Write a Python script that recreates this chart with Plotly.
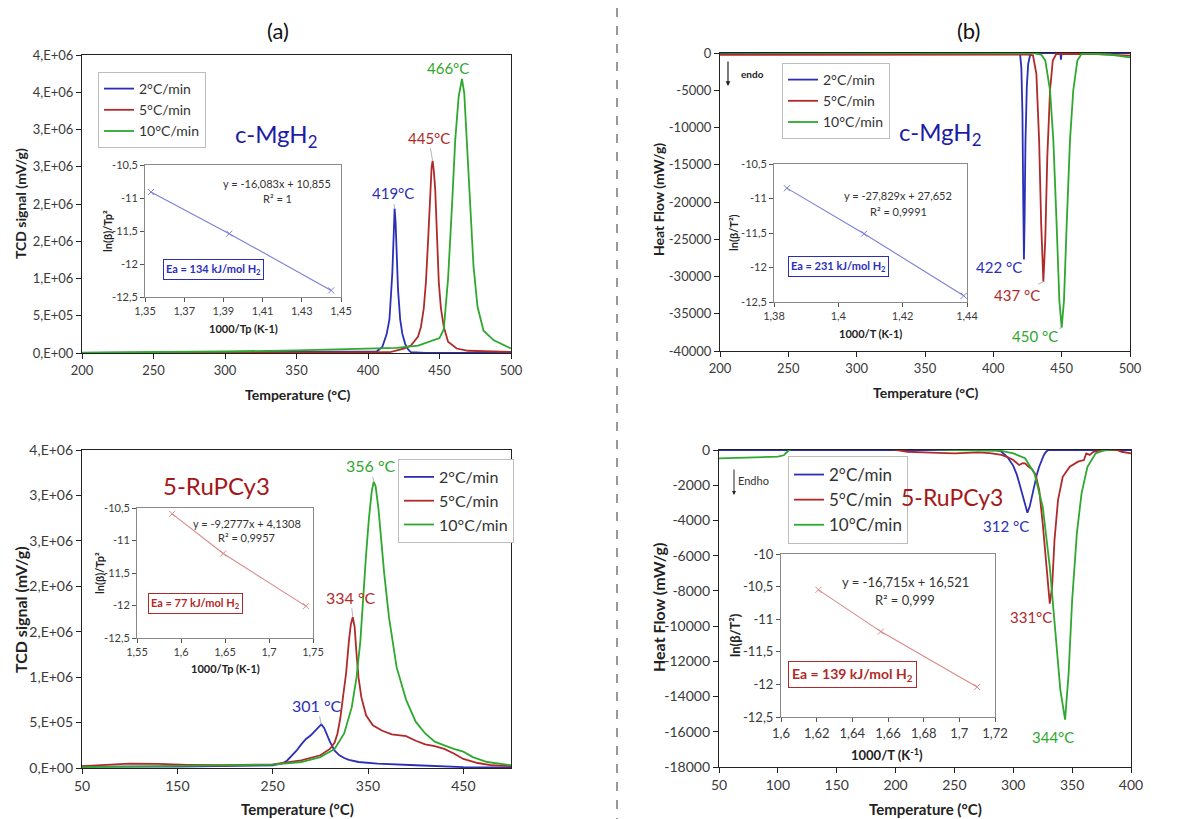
import plotly.graph_objects as go

W, H = 1203, 819
OFF = 8  # page body margin in the browser
def px(x): return (x - OFF) / W
def py(y): return 1 - (y - OFF) / H

FONT = "Lato"
RATES = ["2°C/min", "5°C/min", "10°C/min"]
COLORS = ["#2b2fb8", "#b02a2a", "#2ea82e"]
INSET_BLUE = "#7b7fd6"
INSET_RED = "#d98a8a"
NAVY = "#1c1ca6"
DARKRED = "#a31818"

# ---------------- (a) top : TPD c-MgH2 ----------------
a1_T_2 = [200, 300, 400, 406, 410, 413, 415, 417, 418, 418.6, 419.3, 420, 421, 422.5, 424, 426, 428, 430, 440, 500]
a1_S_2 = [0.0, 0.005e6, 0.01e6, 0.02e6, 0.08e6, 0.25e6, 0.45e6, 1.07e6, 1.6e6, 1.94e6, 1.75e6, 1.33e6, 0.85e6,
          0.45e6, 0.26e6, 0.12e6, 0.05e6, 0.01e6, 0.0, 0.0]
a1_T_5 = [200, 350, 415, 425, 430, 435, 437, 439, 440.5, 442, 443.5, 444.5, 445.2, 446, 447, 448.2, 449.5, 451, 453,
          456, 462, 470, 500]
a1_S_5 = [0.0, 0.003e6, 0.01e6, 0.06e6, 0.1e6, 0.22e6, 0.35e6, 0.6e6, 0.95e6, 1.5e6, 2.2e6, 2.5e6, 2.58e6, 2.45e6,
          2.2e6, 1.51e6, 0.95e6, 0.6e6, 0.35e6, 0.15e6, 0.06e6, 0.03e6, 0.015e6]
a1_T_10 = [200, 250, 300, 350, 400, 420, 435, 445, 450, 453, 456, 458.7, 461, 463.4, 465.7, 467.3, 469, 471.5, 473.8,
           476.6, 480.8, 488, 500]
a1_S_10 = [0.005e6, 0.01e6, 0.02e6, 0.035e6, 0.06e6, 0.07e6, 0.1e6, 0.16e6, 0.2e6, 0.32e6, 1.0e6, 1.96e6, 2.86e6,
           3.44e6, 3.68e6, 3.49e6, 2.86e6, 1.96e6, 1.16e6, 0.62e6, 0.3e6, 0.17e6, 0.06e6]
a1_yticks = [0, 0.5e6, 1e6, 1.5e6, 2e6, 2.5e6, 3e6, 3.5e6, 4e6]
a1_ylabels = ["0,E+00", "5,E+05", "1,E+06", "2,E+06", "2,E+06", "3,E+06", "3,E+06", "4,E+06", "4,E+06"]
a1_xticks = [200, 250, 300, 350, 400, 450, 500]

# ---------------- (b) top : DSC c-MgH2 ----------------
b1_T_2 = [200, 300, 419.5, 420.5, 421.3, 421.9, 422.4, 422.9, 423.5, 424.5, 425.5, 427, 428, 449, 449.5, 450, 500]
b1_V_2 = [0, 0, 0, -2000, -8000, -20000, -27700, -22000, -12000, -4500, -1500, -200, 0, 0, -900, 0, 0]
b1_T_5 = [200, 300, 400, 425, 429, 431.5, 433.5, 435, 436.6, 438, 439.5, 441.5, 443.5, 446, 450, 475, 500]
b1_V_5 = [-250, -250, -250, -200, -300, -2800, -11700, -22900, -30700, -25100, -13900, -5000, -1000, -150, -100,
          -150, -350]
b1_T_10 = [200, 400, 430, 435, 438, 441.5, 443.9, 446.3, 448.3, 450, 451.7, 453.7, 456.1, 458.5, 461.5, 464.6,
           470, 485, 495, 500]
b1_V_10 = [50, 0, -50, -200, -1000, -5000, -11700, -22900, -33200, -36870, -33200, -22900, -11700, -5000, -1000,
           -100, -80, -200, -450, -600]
b1_yticks = [0, -5000, -10000, -15000, -20000, -25000, -30000, -35000, -40000]
b1_ylabels = ["0", "-5000", "-10000", "-15000", "-20000", "-25000", "-30000", "-35000", "-40000"]
b1_xticks = [200, 250, 300, 350, 400, 450, 500]

# ---------------- (a) bottom : TPD 5-RuPCy3 ----------------
a2_T_2 = [50, 150, 250, 260, 265, 270, 275, 280, 285, 290, 295, 298, 301, 304, 307, 310, 315, 320, 325, 330, 340,
          360, 400, 450, 500]
a2_S_2 = [0.015e6, 0.015e6, 0.03e6, 0.05e6, 0.08e6, 0.13e6, 0.19e6, 0.26e6, 0.32e6, 0.36e6, 0.41e6, 0.45e6, 0.48e6,
          0.44e6, 0.36e6, 0.29e6, 0.19e6, 0.14e6, 0.11e6, 0.09e6, 0.066e6, 0.048e6, 0.03e6, 0.01e6, 0.005e6]
a2_T_5 = [50, 75, 100, 130, 160, 200, 250, 280, 300, 310, 315, 318, 321, 324, 327, 330, 332, 334, 336, 338, 340, 343,
          348, 355, 365, 375, 385, 390, 400, 410, 420, 430, 440, 450, 465, 480, 500]
a2_S_5 = [0.02e6, 0.035e6, 0.048e6, 0.045e6, 0.035e6, 0.03e6, 0.04e6, 0.085e6, 0.14e6, 0.21e6, 0.28e6, 0.38e6,
          0.55e6, 0.8e6, 1.04e6, 1.4e6, 1.58e6, 1.66e6, 1.55e6, 1.25e6, 1.0e6, 0.78e6, 0.58e6, 0.47e6, 0.41e6,
          0.37e6, 0.36e6, 0.35e6, 0.3e6, 0.26e6, 0.24e6, 0.21e6, 0.16e6, 0.10e6, 0.055e6, 0.03e6, 0.02e6]
a2_T_10 = [50, 150, 250, 280, 300, 315, 325, 333, 338, 342, 345, 348, 351, 354, 356, 358, 361, 364, 367, 372, 380,
           390, 400, 410, 420, 430, 440, 450, 460, 475, 500]
a2_S_10 = [0.01e6, 0.02e6, 0.037e6, 0.066e6, 0.12e6, 0.21e6, 0.38e6, 0.67e6, 1.0e6, 1.4e6, 1.9e6, 2.35e6, 2.75e6,
           3.05e6, 3.15e6, 3.1e6, 2.85e6, 2.5e6, 2.14e6, 1.66e6, 1.11e6, 0.75e6, 0.51e6, 0.38e6, 0.29e6, 0.25e6,
           0.21e6, 0.18e6, 0.12e6, 0.066e6, 0.03e6]
a2_yticks = [0, 0.5e6, 1e6, 1.5e6, 2e6, 2.5e6, 3e6, 3.5e6]
a2_ylabels = ["0,E+00", "5,E+05", "1,E+06", "2,E+06", "2,E+06", "3,E+06", "3,E+06", "4,E+06"]
a2_xticks = [50, 150, 250, 350, 450]

# ---------------- (b) bottom : DSC 5-RuPCy3 ----------------
b2_T_2 = [50, 200, 285, 290, 295, 300, 303, 306, 309, 312, 314, 316, 318, 320, 322, 324, 326, 328, 330, 400]
b2_V_2 = [0, 0, 0, -100, -400, -900, -1400, -2100, -2900, -3560, -3200, -2600, -1900, -1400, -950, -550, -280, -80,
          0, 0]
b2_T_5 = [50, 195, 200, 210, 230, 250, 270, 280, 290, 295, 300, 305, 308, 310, 313, 316, 319, 322, 325, 328, 331,
          333, 335, 338, 342, 348, 355, 360, 362, 365, 368, 372, 380, 388, 392, 400]
b2_V_5 = [300, 300, 0, -100, -150, -190, -130, -180, -280, -400, -570, -850, -750, -760, -950, -1100, -1400, -2270,
          -4170, -6630, -8720, -7770, -5120, -2840, -1520, -950, -660, -570, -190, -280, -100, -50, 0, 0, -100, -190]
b2_T_10 = [50, 80, 100, 105, 108, 112, 200, 250, 290, 300, 310, 318, 325, 331, 336, 340, 344, 347, 350, 354, 358,
           363, 370, 378, 390, 400]
b2_V_10 = [-480, -430, -380, -300, -100, 100, 100, 0, -50, -190, -470, -1330, -3220, -6630, -10800, -13640, -15310,
           -12690, -8530, -4740, -2460, -950, -190, 0, 50, 100]
b2_yticks = [0, -2000, -4000, -6000, -8000, -10000, -12000, -14000, -16000, -18000]
b2_ylabels = ["0", "-2000", "-4000", "-6000", "-8000", "-10000", "-12000", "-14000", "-16000", "-18000"]
b2_xticks = [50, 100, 150, 200, 250, 300, 350, 400]

# ---------------- Kissinger insets ----------------
i1_x = [1.353, 1.393, 1.445]
i1_y = [-10.91, -11.54, -12.40]
i1_xticks = [1.35, 1.37, 1.39, 1.41, 1.43, 1.45]
i1_xlabels = ["1,35", "1,37", "1,39", "1,41", "1,43", "1,45"]
i2_x = [1.384, 1.408, 1.439]
i2_y = [-10.85, -11.51, -12.41]
i2_xticks = [1.38, 1.40, 1.42, 1.44]
i2_xlabels = ["1,38", "1,4", "1,42", "1,44"]
i3_x = [1.590, 1.648, 1.742]
i3_y = [-10.59, -11.20, -12.01]
i3_xticks = [1.55, 1.60, 1.65, 1.70, 1.75]
i3_xlabels = ["1,55", "1,6", "1,65", "1,7", "1,75"]
i4_x = [1.621, 1.656, 1.710]
i4_y = [-10.55, -11.19, -12.04]
i4_xticks = [1.60, 1.62, 1.64, 1.66, 1.68, 1.70, 1.72]
i4_xlabels = ["1,6", "1,62", "1,64", "1,66", "1,68", "1,7", "1,72"]
iy_ticks = [-12.5, -12, -11.5, -11, -10.5]
iy_labels = ["-12,5", "-12", "-11,5", "-11", "-10,5"]
iy4_ticks = [-12.5, -12, -11.5, -11, -10.5, -10]
iy4_labels = ["-12,5", "-12", "-11,5", "-11", "-10,5", "-10"]

fig = go.Figure()

panels = [
    ("x", "y", "legend", [(a1_T_2, a1_S_2), (a1_T_5, a1_S_5), (a1_T_10, a1_S_10)]),
    ("x2", "y2", "legend2", [(b1_T_2, b1_V_2), (b1_T_5, b1_V_5), (b1_T_10, b1_V_10)]),
    ("x3", "y3", "legend3", [(a2_T_2, a2_S_2), (a2_T_5, a2_S_5), (a2_T_10, a2_S_10)]),
    ("x4", "y4", "legend4", [(b2_T_2, b2_V_2), (b2_T_5, b2_V_5), (b2_T_10, b2_V_10)]),
]
for xa, ya, leg, series in panels:
    for (xs, ys), name, col in zip(series, RATES, COLORS):
        fig.add_trace(go.Scatter(x=xs, y=ys, mode="lines", name=name, legend=leg,
                                 line=dict(color=col, width=1.8), xaxis=xa, yaxis=ya))

insets = [("x5", "y5", i1_x, i1_y, INSET_BLUE), ("x6", "y6", i2_x, i2_y, INSET_BLUE),
          ("x7", "y7", i3_x, i3_y, INSET_RED), ("x8", "y8", i4_x, i4_y, INSET_RED)]
for xa, ya, xs, ys, col in insets:
    fig.add_trace(go.Scatter(x=xs, y=ys, mode="lines+markers", showlegend=False,
                             line=dict(color=col, width=1.1),
                             marker=dict(symbol="x-thin", size=6, line=dict(color=col, width=1)),
                             xaxis=xa, yaxis=ya))

def main_ax(domain, anchor, rng, tv, tt, fs):
    return dict(domain=domain, anchor=anchor, range=rng, tickvals=tv, ticktext=tt, automargin=False,
                showline=True, linecolor="#222222", linewidth=1.2, mirror=True,
                ticks="outside", ticklen=5, tickcolor="#222222", showgrid=False, zeroline=False,
                tickfont=dict(size=fs, color="#3a3a3a", family=FONT))

def inset_ax(domain, anchor, rng, tv, tt, fs=11):
    return dict(domain=domain, anchor=anchor, range=rng, tickvals=tv, ticktext=tt, automargin=False,
                showline=True, linecolor="#8a8a8a", linewidth=1, mirror=True,
                ticks="outside", ticklen=4, tickcolor="#555555", showgrid=False, zeroline=False,
                tickfont=dict(size=fs, color="#3a3a3a", family=FONT))

def xd(a, b): return [px(a), px(b)]
def yd(top, bottom): return [py(bottom), py(top)]

fig.update_layout(
    width=W, height=H, margin=dict(l=0, r=0, t=0, b=0, pad=0, autoexpand=False),
    paper_bgcolor="white", plot_bgcolor="white",
    font=dict(family=FONT, color="#222222"),
    xaxis=main_ax(xd(82, 511), "y", [200, 500], a1_xticks, [str(v) for v in a1_xticks], 13),
    yaxis=main_ax(yd(55, 353), "x", [0, 4e6], a1_yticks, a1_ylabels, 13),
    xaxis2=main_ax(xd(720, 1130), "y2", [200, 500], b1_xticks, [str(v) for v in b1_xticks], 13),
    yaxis2=main_ax(yd(53, 351), "x2", [-40000, 0], b1_yticks, b1_ylabels, 13),
    xaxis3=main_ax(xd(82, 511), "y3", [50, 500], a2_xticks, [str(v) for v in a2_xticks], 14),
    yaxis3=main_ax(yd(450, 768), "x3", [0, 3.5e6], a2_yticks, a2_ylabels, 14),
    xaxis4=main_ax(xd(719, 1131), "y4", [50, 400], b2_xticks, [str(v) for v in b2_xticks], 14),
    yaxis4=main_ax(yd(450, 767), "x4", [-18000, 0], b2_yticks, b2_ylabels, 14),
    xaxis5=inset_ax(xd(145, 341), "y5", [1.35, 1.45], i1_xticks, i1_xlabels),
    yaxis5=inset_ax(yd(165, 297), "x5", [-12.5, -10.5], iy_ticks, iy_labels),
    xaxis6=inset_ax(xd(774, 967), "y6", [1.38, 1.44], i2_xticks, i2_xlabels),
    yaxis6=inset_ax(yd(164, 302), "x6", [-12.5, -10.5], iy_ticks, iy_labels),
    xaxis7=inset_ax(xd(137, 313), "y7", [1.55, 1.75], i3_xticks, i3_xlabels),
    yaxis7=inset_ax(yd(508, 638), "x7", [-12.5, -10.5], iy_ticks, iy_labels),
    xaxis8=inset_ax(xd(781, 995), "y8", [1.6, 1.72], i4_xticks, i4_xlabels, 13),
    yaxis8=inset_ax(yd(554, 717), "x8", [-12.5, -10], iy4_ticks, iy4_labels, 13),
)

def legend(x, y, fs):
    return dict(x=px(x), y=py(y), xanchor="left", yanchor="top", bgcolor="white",
                bordercolor="#bdbdbd", borderwidth=1, itemwidth=30, tracegroupgap=0,
                font=dict(size=fs, family=FONT, color="#333333"))
fig.update_layout(legend=legend(98, 72, 14), legend2=legend(782, 63, 14),
                  legend3=legend(398, 459, 16), legend4=legend(788, 456, 17))

ann = []
def txt(x, y, t, size=14, color="#222222", angle=0, **kw):
    ann.append(dict(x=px(x), y=py(y), xref="paper", yref="paper", text=t, showarrow=False,
                    textangle=angle, xanchor="center", yanchor="middle",
                    font=dict(size=size, color=color, family=FONT), **kw))

# panel titles
txt(278, 30, "(a)", 22, "#111111")
txt(968, 30, "(b)", 22, "#111111")
# main axis titles
txt(20, 204, "<b>TCD signal (mV/g)</b>", 14, "#222222", -90)
txt(297, 394, "<b>Temperature (°C)</b>", 14)
txt(658, 200, "<b>Heat Flow (mW/g)</b>", 14, "#222222", -90)
txt(925, 392, "<b>Temperature (°C)</b>", 14)
txt(20, 610, "<b>TCD signal (mV/g)</b>", 16, "#222222", -90)
txt(297, 809, "<b>Temperature (°C)</b>", 15)
txt(658, 608, "<b>Heat Flow (mW/g)</b>", 16, "#222222", -90)
txt(925, 809, "<b>Temperature (°C)</b>", 15)
# sample names
txt(276, 135, "c-MgH<sub>2</sub>", 24, NAVY)
txt(940, 133, "c-MgH<sub>2</sub>", 24, NAVY)
txt(216, 485, "5-RuPCy3", 24, DARKRED)
txt(952, 497, "5-RuPCy3", 23, DARKRED)
# inset axis titles
txt(108, 231, "<b>ln(β)/Tp²</b>", 11, "#222222", -90)
txt(243, 329, "<b>1000/Tp (K-1)</b>", 11)
txt(733, 233, "<b>ln(β/T²)</b>", 11, "#222222", -90)
txt(870, 334, "<b>1000/T (K-1)</b>", 11)
txt(99, 573, "<b>ln(β)/Tp²</b>", 11, "#222222", -90)
txt(225, 668, "<b>1000/Tp (K-1)</b>", 11)
txt(735, 635, "<b>ln(β/T²)</b>", 13, "#222222", -90)
txt(887, 754, "<b>1000/T (K<sup>-1</sup>)</b>", 13)
# fit equations
txt(277, 183, "y = -16,083x + 10,855", 11, "#333333")
txt(277, 198, "R² = 1", 11, "#333333")
txt(898, 196, "y = -27,829x + 27,652", 11, "#333333")
txt(898, 211, "R² = 0,9991", 11, "#333333")
txt(247, 523, "y = -9,2777x + 4,1308", 11, "#333333")
txt(247, 537, "R² = 0,9957", 11, "#333333")
txt(905, 582, "y = -16,715x + 16,521", 13, "#333333")
txt(905, 600, "R² = 0,999", 13, "#333333")
# Ea boxes
txt(213, 269, "<b>Ea = 134 kJ/mol H<sub>2</sub></b>", 11, "#2b2fb8", bordercolor="#2b2fb8", borderwidth=1,
    borderpad=2, bgcolor="white")
txt(838, 266, "<b>Ea = 231 kJ/mol H<sub>2</sub></b>", 11, "#2b2fb8", bordercolor="#2b2fb8", borderwidth=1,
    borderpad=2, bgcolor="white")
txt(195, 603, "<b>Ea = 77 kJ/mol H<sub>2</sub></b>", 11, "#b02a2a", bordercolor="#b02a2a", borderwidth=1,
    borderpad=2, bgcolor="white")
txt(852, 674, "<b>Ea = 139 kJ/mol H<sub>2</sub></b>", 14, "#b02a2a", bordercolor="#b02a2a", borderwidth=1,
    borderpad=3, bgcolor="white")
# endo arrows
ann.append(dict(x=px(728), y=py(86), xref="paper", yref="paper", ax=0, ay=-26, showarrow=True,
                arrowhead=2, arrowsize=0.8, arrowwidth=1.2, arrowcolor="#222222", text=""))
txt(752, 74, "<b>endo</b>", 10, "#222222")
ann.append(dict(x=px(734), y=py(495), xref="paper", yref="paper", ax=0, ay=-27, showarrow=True,
                arrowhead=2, arrowsize=0.8, arrowwidth=1, arrowcolor="#222222", text=""))
txt(753, 481, "Endho", 11, "#333333")

# peak labels
def peak(xa, ya, x, y, t, col, axp, ayp, size=15, arrow=True):
    ann.append(dict(x=x, y=y, xref=xa, yref=ya, text=t, showarrow=arrow, ax=axp, ay=ayp,
                    arrowhead=0, arrowwidth=1, arrowcolor="#b5b5b5", standoff=0,
                    font=dict(size=size, color=col, family=FONT)))

peak("x", "y", 418.6, 1.94e6, "419°C", COLORS[0], -2, -15)
peak("x", "y", 445.2, 2.58e6, "445°C", COLORS[1], -4, -23)
peak("x", "y", 465.7, 3.68e6, "466°C", COLORS[2], -14, -11)
peak("x2", "y2", 422.4, -27700, "422 °C", COLORS[0], -25, 8)
peak("x2", "y2", 436.6, -30700, "437 °C", COLORS[1], -26, 13)
peak("x2", "y2", 450, -36870, "450 °C", COLORS[2], -27, 8)
peak("x3", "y3", 301, 0.48e6, "301 °C", COLORS[0], -4, -19, 16)
peak("x3", "y3", 334, 1.66e6, "334 °C", COLORS[1], -2, -20, 16)
peak("x3", "y3", 356, 3.15e6, "356 °C", COLORS[2], -3, -16, 16)
peak("x4", "y4", 293.8, -4315, "312 °C", COLORS[0], 0, 0, 15, False)
peak("x4", "y4", 315, -9483, "331°C", COLORS[1], 0, 0, 15, False)
peak("x4", "y4", 333.8, -16297, "344°C", COLORS[2], 0, 0, 15, False)

fig.update_layout(annotations=ann)
fig.add_shape(type="line", xref="paper", yref="paper", x0=px(617), x1=px(617), y0=0, y1=1,
              line=dict(color="#333333", width=1, dash="dash"))

fig.write_html("out.html")
